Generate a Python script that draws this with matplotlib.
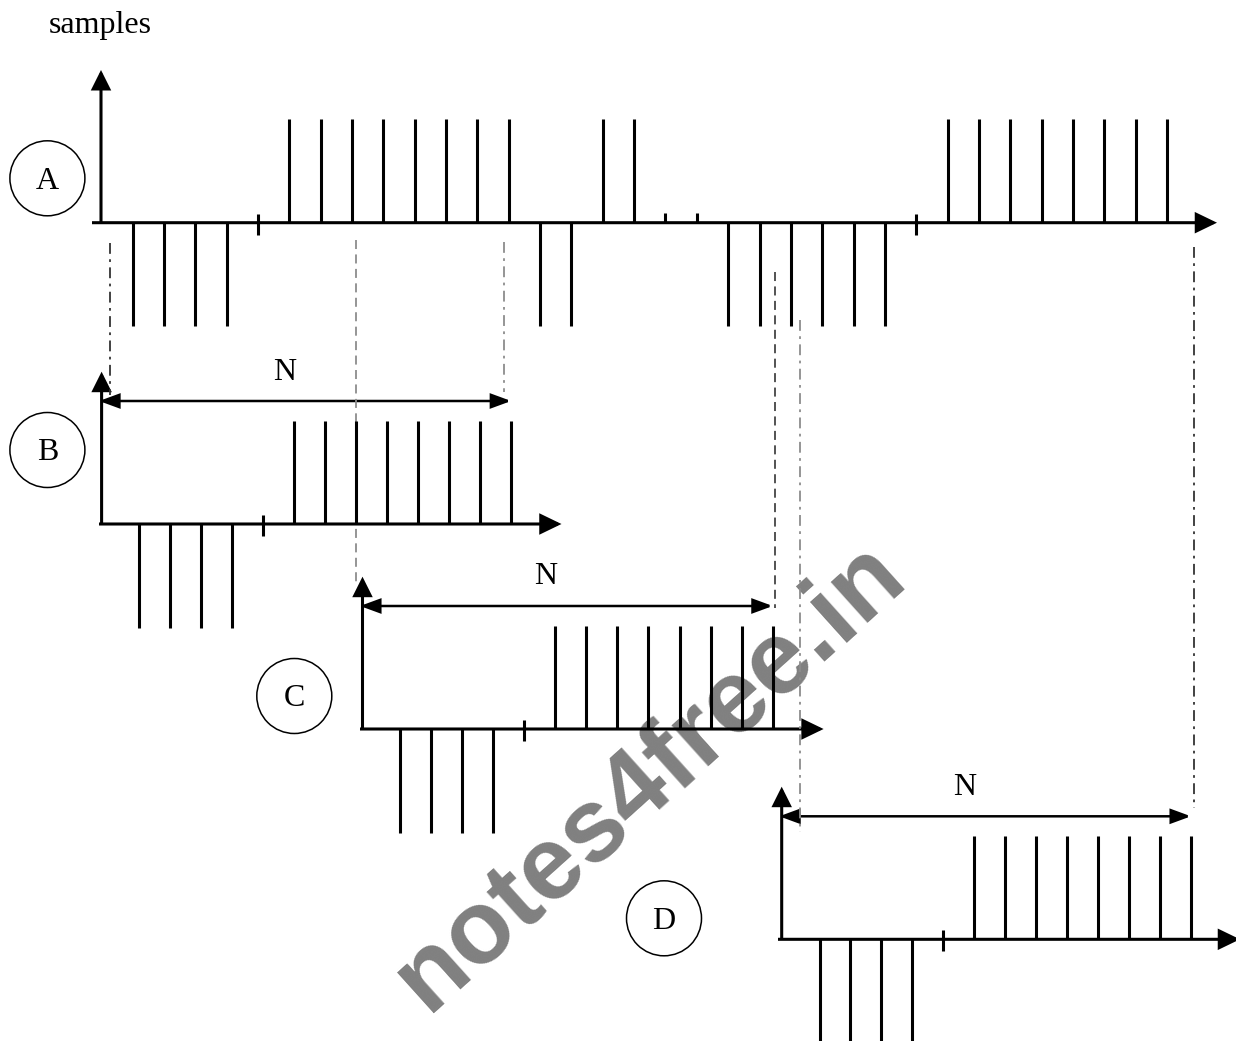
"""Overlapping frames of a sample sequence (A) cut into N-sample frames (B, C, D)."""

import matplotlib
matplotlib.use("Agg")
import matplotlib.pyplot as plt
from matplotlib.patches import Circle, FancyArrowPatch

# sample values of the long sequence A (+1 / -1 pulses, 0 = empty slot)
seq_A = [-1, -1, -1, -1, 0, 1, 1, 1, 1, 1, 1, 1, 1, -1, -1, 1, 1, 0.09, 0.09,
         -1, -1, -1, -1, -1, -1, 0, 1, 1, 1, 1, 1, 1, 1, 1]
# the three frames of N samples each
frame_B = [-1, -1, -1, -1, 0, 1, 1, 1, 1, 1, 1, 1, 1]
frame_C = [-1, -1, -1, -1, 0, 1, 1, 1, 1, 1, 1, 1, 1]
frame_D = [-1, -1, -1, -1, 0, 1, 1, 1, 1, 1, 1, 1, 1]
panel_labels = ["A", "B", "C", "D"]
frame_label = "N"
y_label = "samples"

SERIF = ["Liberation Serif", "DejaVu Serif"]
AMP = 103.5       # pixel height of a unit sample
STEM_LW = 2.2

# layout of each panel in pixel coordinates
layout = {
    "A": dict(ox=101.0, oy=222.7, x0=132.5, dx=31.35, xs=92, xt=1217, yt=70, c=(47.4, 178.3)),
    "B": dict(ox=101.6, oy=524.0, x0=139.2, dx=31.0, xs=99, xt=561.5, yt=371.7, c=(47.4, 450.0)),
    "C": dict(ox=362.5, oy=729.0, x0=399.6, dx=31.1, xs=360, xt=823.6, yt=576.7, c=(294.3, 696.0)),
    "D": dict(ox=781.7, oy=939.3, x0=819.5, dx=30.96, xs=778, xt=1240, yt=786.7, c=(664.0, 918.3)),
}
series = {"A": seq_A, "B": frame_B, "C": frame_C, "D": frame_D}


def arrow(ax, p0, p1, style="-|>", lw=2.2, hl=0.6, hw=0.3, ms=20):
    a = FancyArrowPatch(p0, p1, arrowstyle=f"{style},head_length={hl},head_width={hw}",
                        mutation_scale=ms, lw=lw, color="black",
                        shrinkA=0, shrinkB=0, joinstyle="miter", capstyle="butt")
    ax.add_patch(a)


fig = plt.figure(figsize=(12.36, 10.41), dpi=100)
ax = fig.add_axes([0, 0, 1, 1])
ax.set_xlim(0, 1236)
ax.set_ylim(1041, 0)
ax.axis("off")

# watermark
ax.text(668, 796, "notes4free.in", rotation=42, rotation_mode="anchor",
        ha="center", va="baseline", fontsize=75, fontweight="bold",
        family=["Liberation Sans", "DejaVu Sans"], color="#808080", zorder=0)

for name in panel_labels:
    L = layout[name]
    vals = series[name]
    xs = [L["x0"] + L["dx"] * i for i in range(len(vals))]
    # axes with arrows
    arrow(ax, (L["xs"], L["oy"]), (L["xt"], L["oy"]), lw=2.2, hl=0.62, hw=0.3)
    arrow(ax, (L["ox"], L["oy"]), (L["ox"], L["yt"]), lw=2.2, hl=0.56, hw=0.28)
    # samples
    for x, v in zip(xs, vals):
        if v == 0:
            ax.vlines(x, L["oy"] - 9, L["oy"] + 12, color="black", lw=STEM_LW, zorder=3)
        else:
            ax.vlines(x, L["oy"], L["oy"] - v * AMP, color="black", lw=STEM_LW, zorder=3)
    # circled label
    ax.add_patch(Circle(L["c"], 37.5, fill=False, lw=1.1, ec="black"))
    ax.text(L["c"][0], L["c"][1] + 3, name, ha="center", va="center",
            fontsize=23, family=SERIF)
    # frame length arrow
    if name != "A":
        ya = L["oy"] - 123
        arrow(ax, (L["ox"] - 2.5, ya), (xs[-1], ya), style="<|-|>",
              lw=1.8, hl=0.6, hw=0.22)
        ax.text((L["ox"] + xs[-1]) / 2 - 22, ya - 29, frame_label, ha="center",
                va="center", fontsize=23, family=SERIF)

# guide lines linking frame edges to the sequence
dashdot = (0, (6, 3, 1.5, 3))
dashed = (0, (5, 3))
guides = [
    (110.0, 243, 395, dashdot, "#333333"),
    (355.9, 240, 586, dashed, "#8c8c8c"),
    (503.8, 242, 392, dashdot, "#8c8c8c"),
    (775.3, 272, 608, dashed, "#444444"),
    (799.5, 320, 832, dashdot, "#8c8c8c"),
    (1193.5, 247, 808, dashdot, "#333333"),
]
for x, y0, y1, ls, col in guides:
    ax.plot([x, x], [y0, y1], ls=ls, color=col, lw=1.3, zorder=2)

ax.text(49, 26, y_label, ha="left", va="center", fontsize=23, family=SERIF)

fig.savefig("out.png", dpi=100)
